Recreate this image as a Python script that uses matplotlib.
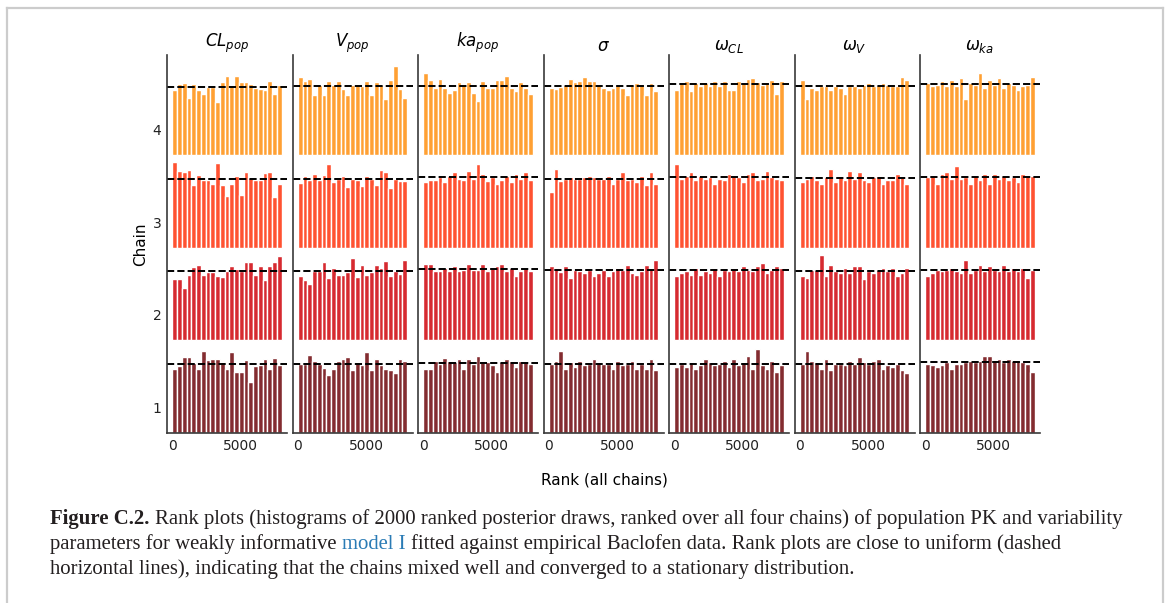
import matplotlib
matplotlib.use('Agg')
import matplotlib.pyplot as plt
import numpy as np
from matplotlib.lines import Line2D

W, H, DPI = 1167, 603, 100

# ---------------- data ----------------
param_titles = [r'$CL_{pop}$', r'$V_{pop}$', r'$ka_{pop}$', r'$\sigma$',
                r'$\omega_{CL}$', r'$\omega_{V}$', r'$\omega_{ka}$']
chain_labels = ['1', '2', '3', '4']
x_ticks = [0, 5000]
n_ranks = 8000
n_bins = 23

# counts per rank bin, chains 1..4 (bottom to top)
cl_pop = [
    [79, 83, 94, 94, 87, 79, 102, 91, 92, 92, 88, 80, 101, 76, 76, 91, 63, 83, 85, 92, 79, 93, 85],
    [77, 77, 65, 82, 91, 94, 82, 85, 85, 80, 79, 86, 93, 89, 87, 97, 97, 81, 92, 75, 92, 97, 105],
    [107, 96, 95, 97, 78, 91, 85, 85, 80, 106, 78, 65, 80, 89, 66, 95, 87, 85, 85, 93, 94, 63, 80],
    [81, 89, 90, 72, 89, 82, 77, 85, 85, 66, 91, 99, 87, 99, 91, 91, 89, 84, 83, 81, 92, 77, 88],
]
v_pop = [
    [86, 86, 97, 90, 86, 81, 72, 80, 90, 92, 95, 78, 88, 84, 101, 78, 92, 84, 80, 78, 74, 92, 89],
    [80, 75, 70, 87, 87, 98, 78, 90, 81, 82, 85, 102, 79, 94, 82, 85, 94, 90, 99, 80, 86, 83, 100],
    [81, 90, 84, 92, 85, 91, 104, 82, 86, 90, 76, 86, 84, 77, 90, 86, 78, 97, 94, 75, 86, 83, 83],
    [98, 92, 95, 75, 87, 75, 92, 87, 92, 83, 75, 88, 89, 86, 92, 75, 91, 87, 70, 94, 111, 83, 72],
]
ka_pop = [
    [80, 80, 90, 86, 93, 90, 88, 92, 80, 92, 86, 96, 90, 88, 84, 76, 88, 92, 90, 82, 90, 88, 86],
    [95, 95, 86, 86, 90, 86, 93, 86, 88, 95, 88, 88, 95, 86, 90, 93, 95, 86, 90, 80, 86, 90, 86],
    [82, 84, 84, 88, 82, 90, 95, 86, 84, 96, 86, 104, 92, 83, 88, 80, 84, 90, 82, 92, 86, 94, 84],
    [103, 94, 84, 95, 84, 78, 82, 91, 88, 91, 78, 68, 93, 84, 84, 94, 94, 99, 84, 80, 91, 84, 77],
]
sigma = [
    [86, 90, 102, 80, 88, 82, 90, 84, 86, 92, 88, 86, 86, 80, 90, 84, 86, 90, 80, 86, 80, 92, 78],
    [93, 90, 85, 92, 78, 88, 86, 84, 88, 80, 84, 88, 80, 86, 90, 88, 94, 84, 82, 86, 94, 90, 100],
    [70, 98, 83, 86, 88, 86, 86, 88, 90, 88, 86, 86, 90, 80, 86, 94, 84, 86, 82, 90, 78, 94, 80],
    [84, 83, 85, 88, 95, 91, 92, 97, 92, 93, 87, 84, 81, 84, 87, 84, 75, 88, 90, 88, 75, 90, 80],
]
omega_cl = [
    [82, 86, 82, 88, 80, 84, 92, 88, 84, 86, 90, 82, 92, 84, 88, 96, 80, 104, 84, 80, 90, 76, 84],
    [80, 84, 86, 82, 90, 82, 86, 84, 90, 80, 88, 86, 90, 86, 92, 88, 86, 92, 96, 84, 88, 92, 90],
    [104, 86, 90, 94, 84, 90, 86, 88, 80, 86, 84, 92, 90, 88, 82, 92, 94, 84, 86, 96, 88, 86, 84],
    [81, 90, 92, 80, 90, 86, 90, 86, 92, 86, 92, 81, 81, 92, 90, 95, 96, 91, 88, 90, 94, 77, 92],
]
omega_v = [
    [86, 102, 90, 88, 80, 92, 78, 86, 86, 84, 90, 86, 94, 88, 86, 90, 92, 80, 84, 82, 86, 78, 74],
    [80, 78, 88, 88, 106, 80, 94, 86, 84, 90, 84, 92, 92, 76, 86, 84, 88, 90, 86, 90, 80, 84, 90],
    [82, 86, 90, 84, 80, 88, 98, 82, 90, 84, 96, 86, 94, 84, 82, 88, 90, 80, 84, 84, 92, 88, 80],
    [94, 70, 84, 82, 86, 86, 82, 86, 84, 76, 86, 86, 84, 88, 90, 86, 88, 90, 88, 86, 86, 98, 94],
]
omega_ka = [
    [86, 84, 82, 84, 88, 80, 86, 86, 88, 90, 88, 90, 96, 96, 90, 92, 88, 92, 90, 90, 88, 86, 76],
    [80, 84, 88, 86, 88, 90, 86, 84, 100, 84, 88, 94, 86, 92, 88, 86, 94, 86, 90, 86, 90, 78, 88],
    [88, 90, 80, 92, 94, 86, 102, 86, 88, 80, 90, 84, 92, 80, 92, 86, 90, 84, 88, 82, 92, 90, 90],
    [90, 86, 88, 92, 86, 94, 86, 96, 70, 90, 88, 102, 84, 94, 88, 96, 84, 90, 88, 82, 86, 88, 98],
]
all_params = [cl_pop, v_pop, ka_pop, sigma, omega_cl, omega_v, omega_ka]

chain_colors = ['#832c30', '#d62a30', '#ff5231', '#ffa033']

caption_lines = [
    [("Figure C.2.", 'bold', '#231f20'),
     ("Rank plots (histograms of 2000 ranked posterior draws, ranked over all four chains) of population PK and variability", 'normal', '#231f20')],
    [("parameters for weakly informative", 'normal', '#231f20'),
     ("model I", 'normal', '#2a7bb5'),
     ("fitted against empirical Baclofen data. Rank plots are close to uniform (dashed", 'normal', '#231f20')],
    [("horizontal lines), indicating that the chains mixed well and converged to a stationary distribution.", 'normal', '#231f20')],
]

# ---------------- layout ----------------
fig = plt.figure(figsize=(W / DPI, H / DPI), dpi=DPI)
fig.patch.set_facecolor('white')

gap = 115.0
edges = np.linspace(0, n_ranks, n_bins + 1)
centers = (edges[1:] + edges[:-1]) / 2
bw = edges[1] - edges[0]

ax_left0, ax_pitch, ax_w = 167, 125.5, 120
ax_top, ax_bot = 55, 433

axes = []
for i, (title, data) in enumerate(zip(param_titles, all_params)):
    l = ax_left0 + i * ax_pitch
    ax = fig.add_axes([l / W, 1 - ax_bot / H, ax_w / W, (ax_bot - ax_top) / H])
    axes.append(ax)
    for idx, counts in enumerate(data):
        counts = np.asarray(counts, dtype=float)
        ax.bar(centers, counts, bottom=idx * gap, width=bw, align='center',
               color=chain_colors[idx], edgecolor='white', linewidth=1.0)
        ax.axhline(idx * gap + counts.mean(), linestyle='--', color='k', lw=1.4)
    ax.set_xlim(-400, 8400)
    ax.set_ylim(0, 4.086 * gap)
    ax.set_xticks(x_ticks)
    ax.set_xticklabels([str(t) for t in x_ticks])
    for s in ['top', 'right']:
        ax.spines[s].set_visible(False)
    for s in ['left', 'bottom']:
        ax.spines[s].set_color('#3a3a3a')
        ax.spines[s].set_linewidth(1.2)
    ax.tick_params(length=0, labelsize=10, colors='#222222', pad=4)
    ax.set_title(title, fontsize=12, pad=2)
    if i == 0:
        ax.set_yticks([k * gap + 32 for k in range(4)])
        ax.set_yticklabels(chain_labels)
        ax.set_ylabel('Chain', fontsize=11, labelpad=3)
    else:
        ax.set_yticks([])

fig.text(604 / W, 1 - 480 / H, 'Rank (all chains)', ha='center', va='center', fontsize=11)

# figure frame
frame_c = '#cccccc'
for xs, ys in [([7, 1163], [8, 8]), ([7, 7], [8, 603]), ([1163, 1163], [8, 603])]:
    fig.add_artist(Line2D([x / W for x in xs], [1 - y / H for y in ys],
                          color=frame_c, lw=1.6, transform=fig.transFigure))

# ---------------- caption ----------------
fig.canvas.draw()
r = fig.canvas.get_renderer()
serif = 'Liberation Serif'


def measure(txt, size, weight='normal'):
    t = fig.text(0, 0, txt, fontsize=size, fontweight=weight, family=serif)
    w = t.get_window_extent(renderer=r).width
    t.remove()
    return w


def line_width(pieces, size):
    sp = measure('x x', size) - measure('xx', size)
    tot = sum(measure(p[0], size, p[1]) for p in pieces)
    return tot + sp * (len(pieces) - 1)


base = 14.0
cap_size = base * (1082 / line_width(caption_lines[0], base))

x0 = 50
baselines = [524, 549, 574]
space = measure('x x', cap_size) - measure('xx', cap_size)
for pieces, yb in zip(caption_lines, baselines):
    x = x0
    for txt, weight, color in pieces:
        t = fig.text(x / W, 1 - yb / H, txt, fontsize=cap_size, fontweight=weight,
                     color=color, family=serif, va='baseline', ha='left')
        x += t.get_window_extent(renderer=r).width + space

fig.savefig('out.png', dpi=DPI)
